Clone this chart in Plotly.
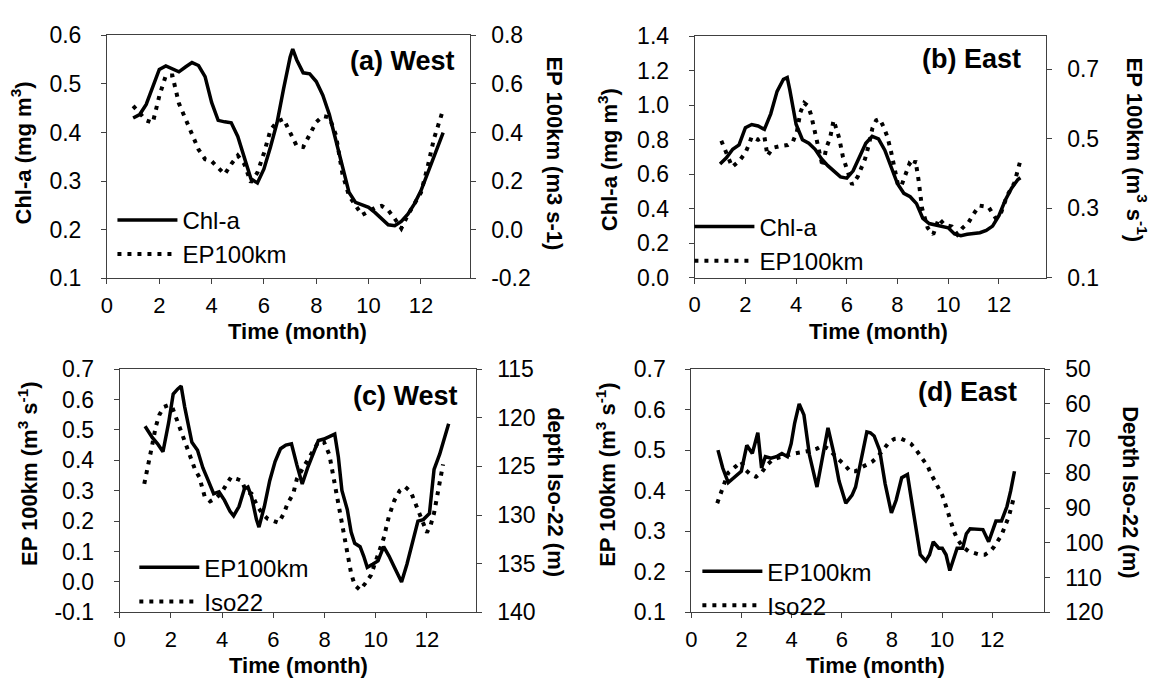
import plotly.graph_objects as go

W, H = 1150, 692
FONT = "Liberation Sans, Arial, sans-serif"

# ---------------- data ----------------
# (a) West: Chl-a (left axis) and EP100km (right axis)
month_a_chl = [1.0, 1.25, 1.5, 1.75, 2.0, 2.25, 2.5, 2.75, 3.0, 3.25, 3.5, 3.75, 4.0, 4.25, 4.5, 4.75,
               5.0, 5.25, 5.5, 5.75, 6.0, 6.25, 6.5, 6.75, 7.0, 7.1, 7.25, 7.5, 7.75, 8.0, 8.25, 8.5,
               8.75, 9.0, 9.25, 9.5, 9.75, 10.0, 10.25, 10.5, 10.75, 11.0, 11.25, 11.5, 11.75, 12.0,
               12.25, 12.5, 12.75, 12.85]
chl_a = [0.43, 0.437, 0.458, 0.495, 0.53, 0.537, 0.53, 0.525, 0.535, 0.544, 0.538, 0.515, 0.462, 0.425,
         0.422, 0.42, 0.392, 0.35, 0.305, 0.296, 0.325, 0.37, 0.42, 0.49, 0.555, 0.572, 0.55, 0.523,
         0.521, 0.505, 0.477, 0.437, 0.385, 0.33, 0.277, 0.256, 0.251, 0.246, 0.235, 0.222, 0.21,
         0.208, 0.217, 0.232, 0.253, 0.28, 0.315, 0.352, 0.385, 0.40]
month_a_ep = [1.0, 1.25, 1.5, 1.75, 2.0, 2.25, 2.5, 2.75, 3.0, 3.25, 3.5, 3.75, 4.0, 4.25, 4.5, 4.75,
              5.0, 5.25, 5.5, 5.75, 6.0, 6.25, 6.5, 6.75, 7.0, 7.25, 7.5, 7.75, 8.0, 8.25, 8.5, 8.75,
              9.0, 9.25, 9.5, 9.75, 10.0, 10.25, 10.5, 10.75, 11.0, 11.25, 11.5, 11.75, 12.0, 12.25,
              12.5, 12.75, 12.85]
ep_a = [0.51, 0.48, 0.45, 0.44, 0.55, 0.635, 0.635, 0.52, 0.455, 0.40, 0.33, 0.29, 0.282, 0.255,
        0.228, 0.27, 0.305, 0.27, 0.195, 0.235, 0.315, 0.41, 0.445, 0.456, 0.40, 0.345, 0.34, 0.395,
        0.443, 0.468, 0.462, 0.39, 0.23, 0.14, 0.10, 0.06, 0.075, 0.09, 0.098, 0.08, 0.045, 0.005,
        0.06, 0.11, 0.152, 0.255, 0.375, 0.46, 0.495]

# (b) East: Chl-a (left axis) and EP100km (right axis)
month_b_chl = [1.0, 1.25, 1.5, 1.75, 2.0, 2.25, 2.5, 2.75, 3.0, 3.25, 3.5, 3.65, 3.75, 4.0, 4.25, 4.5,
               4.75, 5.0, 5.25, 5.5, 5.75, 6.0, 6.25, 6.5, 6.75, 7.0, 7.25, 7.5, 7.75, 8.0, 8.25, 8.5,
               8.75, 9.0, 9.25, 9.5, 9.75, 10.0, 10.25, 10.5, 10.75, 11.0, 11.25, 11.5, 11.75, 12.0,
               12.25, 12.5, 12.75, 12.85]
chl_b = [0.66, 0.695, 0.745, 0.77, 0.87, 0.888, 0.88, 0.86, 0.95, 1.08, 1.15, 1.16, 1.09, 0.89, 0.80,
         0.78, 0.745, 0.69, 0.65, 0.615, 0.585, 0.578, 0.62, 0.70, 0.78, 0.82, 0.805, 0.74, 0.64,
         0.545, 0.49, 0.47, 0.43, 0.345, 0.315, 0.305, 0.30, 0.29, 0.255, 0.245, 0.253, 0.257, 0.262,
         0.275, 0.30, 0.36, 0.45, 0.52, 0.57, 0.58]
month_b_ep = [1.05, 1.2, 1.48, 1.77, 2.0, 2.14, 2.25, 2.5, 2.75, 2.87, 3.08, 3.37, 3.67, 3.88, 4.03,
              4.17, 4.32, 4.47, 4.58, 4.68, 4.76, 4.83, 4.97, 5.05, 5.19, 5.34, 5.48, 5.6, 5.7, 5.85,
              6.0, 6.21, 6.43, 6.57, 6.72, 6.87, 7.01, 7.16, 7.3, 7.45, 7.6, 7.74, 7.88, 8.03, 8.17,
              8.32, 8.47, 8.61, 8.71, 8.83, 8.9, 8.97, 9.19, 9.41, 9.63, 9.85, 10.14, 10.36, 10.57,
              10.79, 11.01, 11.23, 11.59, 11.88, 12.1, 12.32, 12.61, 12.83]
ep_b = [0.494, 0.467, 0.419, 0.437, 0.46, 0.483, 0.506, 0.497, 0.506, 0.451, 0.474, 0.479, 0.482,
        0.493, 0.52, 0.576, 0.603, 0.594, 0.571, 0.54, 0.516, 0.483, 0.451, 0.419, 0.474, 0.502,
        0.553, 0.528, 0.502, 0.447, 0.414, 0.368, 0.391, 0.414, 0.442, 0.483, 0.53, 0.553, 0.557,
        0.534, 0.506, 0.465, 0.41, 0.364, 0.368, 0.40, 0.428, 0.419, 0.437, 0.382, 0.327, 0.30,
        0.244, 0.225, 0.271, 0.253, 0.248, 0.225, 0.244, 0.258, 0.285, 0.308, 0.304, 0.271, 0.29,
        0.336, 0.373, 0.433]

# (c) West: EP100km (left axis) and Iso22 depth (right axis)
month_c_ep = [0.99, 1.27, 1.48, 1.69, 1.91, 2.09, 2.26, 2.4, 2.54, 2.68, 2.82, 3.04, 3.25, 3.46, 3.67,
              3.88, 4.09, 4.31, 4.45, 4.66, 4.87, 5.01, 5.15, 5.34, 5.44, 5.65, 5.86, 6.07, 6.28, 6.49,
              6.71, 6.92, 7.13, 7.34, 7.55, 7.76, 7.98, 8.19, 8.4, 8.54, 8.68, 8.89, 9.04, 9.18, 9.39,
              9.53, 9.67, 9.88, 10.09, 10.31, 10.52, 10.73, 11.01, 11.22, 11.44, 11.65, 11.86, 12.0,
              12.1, 12.28, 12.5, 12.85]
ep_c = [0.512, 0.475, 0.454, 0.428, 0.523, 0.618, 0.634, 0.644, 0.575, 0.512, 0.459, 0.433, 0.375,
        0.333, 0.29, 0.296, 0.269, 0.232, 0.217, 0.248, 0.306, 0.312, 0.28, 0.206, 0.18, 0.248,
        0.333, 0.396, 0.438, 0.45, 0.454, 0.385, 0.322, 0.375, 0.417, 0.465, 0.47, 0.478, 0.486,
        0.412, 0.301, 0.238, 0.164, 0.127, 0.116, 0.085, 0.048, 0.058, 0.069, 0.116, 0.085, 0.048,
        0.0, 0.058, 0.132, 0.2, 0.205, 0.215, 0.225, 0.37, 0.42, 0.52]
month_c_iso = [0.96, 1.13, 1.27, 1.41, 1.55, 1.72, 1.91, 2.05, 2.15, 2.26, 2.4, 2.54, 2.68, 2.82, 2.94,
               3.11, 3.32, 3.53, 3.74, 3.95, 4.16, 4.35, 4.59, 4.77, 4.94, 5.15, 5.36, 5.58, 5.79, 6.0,
               6.21, 6.42, 6.56, 6.78, 6.92, 7.13, 7.34, 7.55, 7.76, 7.98, 8.19, 8.33, 8.47, 8.61, 8.75,
               8.89, 9.04, 9.18, 9.39, 9.6, 9.81, 10.02, 10.31, 10.52, 10.73, 10.94, 11.15, 11.37,
               11.58, 11.79, 12.0, 12.14, 12.28, 12.42, 12.56, 12.63]
iso_c = [126.8, 124.8, 122.8, 120.9, 119.7, 118.9, 118.7, 118.9, 119.6, 120.5, 121.4, 122.5, 123.5,
         124.3, 125.3, 126.1, 128.1, 128.6, 128.3, 127.8, 127.0, 126.1, 126.3, 126.5, 127.6, 127.8,
         129.0, 129.9, 130.4, 130.6, 130.8, 129.8, 128.8, 127.8, 126.3, 125.3, 124.3, 123.3, 122.5,
         122.5, 123.8, 125.8, 127.8, 129.8, 131.8, 134.1, 136.0, 137.2, 137.7, 137.0, 136.2, 134.6,
         132.4, 130.1, 128.5, 127.5, 127.1, 127.6, 129.1, 130.4, 131.8, 131.1, 129.8, 127.8, 125.8,
         124.8]

# (d) East: EP100km (left axis) and Iso22 depth (right axis)
month_d_ep = [1.06, 1.25, 1.47, 1.77, 1.99, 2.21, 2.43, 2.65, 2.8, 2.95, 3.17, 3.39, 3.61, 3.83, 3.98,
              4.12, 4.3, 4.49, 4.71, 5.01, 5.23, 5.45, 5.67, 5.89, 6.16, 6.41, 6.55, 6.77, 7.0, 7.14,
              7.29, 7.51, 7.73, 7.98, 8.17, 8.39, 8.62, 8.76, 8.98, 9.13, 9.35, 9.5, 9.65, 9.87, 10.01,
              10.16, 10.31, 10.46, 10.6, 10.82, 10.97, 11.12, 11.34, 11.63, 11.86, 12.0, 12.15, 12.37,
              12.59, 12.74, 12.89]
ep_d = [0.50, 0.456, 0.42, 0.436, 0.448, 0.512, 0.492, 0.543, 0.456, 0.484, 0.48, 0.484, 0.492,
        0.484, 0.516, 0.567, 0.614, 0.587, 0.488, 0.409, 0.488, 0.555, 0.496, 0.424, 0.369, 0.389,
        0.409, 0.472, 0.545, 0.543, 0.535, 0.50, 0.417, 0.345, 0.377, 0.432, 0.44, 0.385, 0.298,
        0.242, 0.227, 0.242, 0.274, 0.258, 0.258, 0.242, 0.203, 0.234, 0.258, 0.258, 0.294, 0.306,
        0.306, 0.304, 0.274, 0.298, 0.325, 0.325, 0.361, 0.40, 0.448]
month_d_iso = [1.03, 1.18, 1.33, 1.47, 1.77, 1.99, 2.14, 2.36, 2.58, 2.8, 3.02, 3.24, 3.46, 3.68, 3.9,
               4.12, 4.34, 4.57, 4.79, 5.01, 5.23, 5.45, 5.67, 5.89, 6.11, 6.33, 6.55, 6.77, 7.0, 7.22,
               7.44, 7.66, 7.88, 8.1, 8.32, 8.54, 8.76, 8.98, 9.2, 9.43, 9.57, 9.79, 10.01, 10.16,
               10.31, 10.46, 10.6, 10.82, 11.05, 11.27, 11.49, 11.71, 11.93, 12.08, 12.22, 12.37,
               12.52, 12.67, 12.89]
iso_d = [88.6, 85.8, 83.1, 79.8, 78.0, 76.6, 78.9, 80.3, 81.0, 79.8, 77.5, 76.1, 75.5, 75.2, 74.7,
         74.3, 74.0, 73.8, 73.4, 72.9, 72.0, 72.9, 74.7, 76.1, 77.5, 79.4, 79.4, 78.3, 77.5, 76.6,
         75.2, 72.9, 71.1, 70.1, 69.9, 70.6, 71.5, 73.4, 75.7, 78.0, 80.3, 83.1, 86.3, 89.5, 93.2,
         96.4, 98.8, 101.1, 102.4, 102.9, 103.4, 103.4, 102.4, 101.1, 99.7, 97.8, 95.1, 92.3, 86.3]

# tick labels
x_ticks = [0, 2, 4, 6, 8, 10, 12]
a_right_vals = [-0.2, 0.0, 0.2, 0.4, 0.6, 0.8]
a_right_text = ["-0.2", "0.0", "0.2", "0.4", "0.6", "0.8"]
c_left_vals = [-0.1, 0.0, 0.1, 0.2, 0.3, 0.4, 0.5, 0.6, 0.7]
c_left_text = ["-0.1", "0.0", "0.1", "0.2", "0.3", "0.4", "0.5", "0.6", "0.7"]

# ---------------- layout helpers ----------------
def px(x):
    return x / W


def py(y):
    return 1 - y / H


AX = "#404040"
TICKFONT = dict(family=FONT, size=23, color="black")
XTICKFONT = dict(family=FONT, size=22, color="black")


def xaxis(x0, x1, xmax, anchor):
    return dict(domain=[px(x0), px(x1)], anchor=anchor, range=[0, xmax],
                tickvals=x_ticks, showline=True, linecolor=AX, linewidth=1, mirror=True,
                ticks="outside", ticklen=5, tickcolor=AX, tickfont=XTICKFONT,
                showgrid=False, zeroline=False, ticklabelstandoff=2)


def yaxis(y0, y1, rng, anchor, standoff=15, **kw):
    d = dict(domain=[py(y1), py(y0)], anchor=anchor, range=rng, showline=True,
             linecolor=AX, linewidth=1, ticks="outside", ticklen=5, tickcolor=AX,
             tickfont=TICKFONT, showgrid=False, zeroline=False, ticklabelstandoff=standoff)
    d.update(kw)
    return d


SOLID = dict(color="black", width=3.5)
DOTTED = dict(color="black", width=4, dash="4px,6px")

fig = go.Figure()
# (a)
fig.add_trace(go.Scatter(x=month_a_chl, y=chl_a, mode="lines", line=SOLID, name="Chl-a",
                         xaxis="x", yaxis="y", legend="legend"))
fig.add_trace(go.Scatter(x=month_a_ep, y=ep_a, mode="lines", line=DOTTED, name="EP100km",
                         xaxis="x", yaxis="y2", legend="legend"))
# (b)
fig.add_trace(go.Scatter(x=month_b_chl, y=chl_b, mode="lines", line=SOLID, name="Chl-a",
                         xaxis="x2", yaxis="y3", legend="legend2"))
fig.add_trace(go.Scatter(x=month_b_ep, y=ep_b, mode="lines", line=DOTTED, name="EP100km",
                         xaxis="x2", yaxis="y4", legend="legend2"))
# (c)
fig.add_trace(go.Scatter(x=month_c_ep, y=ep_c, mode="lines", line=SOLID, name="EP100km",
                         xaxis="x3", yaxis="y5", legend="legend3"))
fig.add_trace(go.Scatter(x=month_c_iso, y=iso_c, mode="lines", line=DOTTED, name="Iso22",
                         xaxis="x3", yaxis="y6", legend="legend3"))
# (d)
fig.add_trace(go.Scatter(x=month_d_ep, y=ep_d, mode="lines", line=SOLID, name="EP100km",
                         xaxis="x4", yaxis="y7", legend="legend4"))
fig.add_trace(go.Scatter(x=month_d_iso, y=iso_d, mode="lines", line=DOTTED, name="Iso22",
                         xaxis="x4", yaxis="y8", legend="legend4"))

# panel geometry in pixels: (left, right, top, bottom)
PA = (101.5, 466, 23.3, 275.5)
PB = (692.3, 1045, 24, 275.3)
PC = (114.3, 472, 370, 622.7)
PD = (689, 1043, 370, 622.7)

RS = 11  # right-axis label standoff

layout = dict(
    width=W, height=H, margin=dict(l=0, r=0, t=0, b=0),
    paper_bgcolor="white", plot_bgcolor="white",
    font=dict(family=FONT, color="black"),
    xaxis=xaxis(PA[0], PA[1], 13.86, "y"),
    yaxis=yaxis(PA[2], PA[3], [0.1, 0.6], "x", dtick=0.1, tickformat=".1f"),
    yaxis2=yaxis(PA[2], PA[3], [-0.2, 0.8], "x", standoff=RS, overlaying="y", side="right",
                 tickvals=a_right_vals, ticktext=a_right_text),
    xaxis2=xaxis(PB[0], PB[1], 13.84, "y3"),
    yaxis3=yaxis(PB[2], PB[3], [0.0, 1.4], "x2", dtick=0.2, tickformat=".1f"),
    yaxis4=yaxis(PB[2], PB[3], [0.1, 0.795], "x2", standoff=RS, overlaying="y3", side="right",
                 tick0=0.1, dtick=0.2, tickformat=".1f"),
    xaxis3=xaxis(PC[0], PC[1], 13.9, "y5"),
    yaxis5=yaxis(PC[2], PC[3], [-0.1, 0.7], "x3", tickvals=c_left_vals, ticktext=c_left_text),
    yaxis6=yaxis(PC[2], PC[3], [140, 115], "x3", standoff=RS, overlaying="y5", side="right",
                 tick0=115, dtick=5),
    xaxis4=xaxis(PD[0], PD[1], 14.05, "y7"),
    yaxis7=yaxis(PD[2], PD[3], [0.1, 0.7], "x4", dtick=0.1, tickformat=".1f"),
    yaxis8=yaxis(PD[2], PD[3], [120, 50], "x4", standoff=RS, overlaying="y7", side="right",
                 tick0=50, dtick=10),
)


def legend(xp, yp):
    return dict(x=px(xp), y=py(yp), xanchor="left", yanchor="top", bgcolor="rgba(0,0,0,0)",
                font=dict(family=FONT, size=24, color="black"), itemwidth=60,
                tracegroupgap=0)


layout["legend"] = legend(107, 192)
layout["legend2"] = legend(687, 199)
layout["legend3"] = legend(129, 553)
layout["legend4"] = legend(695, 557)
fig.update_layout(**layout)


def ann(text, x, y, size=22, angle=0, xanchor="center"):
    fig.add_annotation(text=text, x=px(x), y=py(y), xref="paper", yref="paper",
                       showarrow=False, textangle=angle, xanchor=xanchor, yanchor="middle",
                       font=dict(family=FONT, size=size, color="black"))


EP_SUP = "<b>EP 100km (m<sup>3</sup> s<sup>-1</sup>)</b>"
CHL = "<b>Chl-a (mg m<sup>3</sup>)</b>"
TIME = "<b>Time (month)</b>"

# (a)
ann(CHL, 15, 145, angle=-90)
ann("<b>EP 100km (m3 s-1)</b>", 551, 146, angle=90)
ann(TIME, 293, 331)
ann("<b>(a) West</b>", 453, 50, size=27, xanchor="right")
# (b)
ann(CHL, 605, 152, angle=-90)
ann(EP_SUP, 1137, 142, angle=90)
ann(TIME, 877, 331)
ann("<b>(b) East</b>", 1022, 48, size=27, xanchor="right")
# (c)
ann(EP_SUP, 22, 478, angle=-90)
ann("<b>depth Iso-22 (m)</b>", 553, 498, angle=90)
ann(TIME, 294, 678)
ann("<b>(c) West</b>", 456, 398, size=27, xanchor="right")
# (d)
ann(EP_SUP, 603, 479, angle=-90)
ann("<b>Depth Iso-22 (m)</b>", 1131, 498, angle=90)
ann(TIME, 874, 678)
ann("<b>(d) East</b>", 1018, 394, size=27, xanchor="right")

fig.write_html("out.html")
